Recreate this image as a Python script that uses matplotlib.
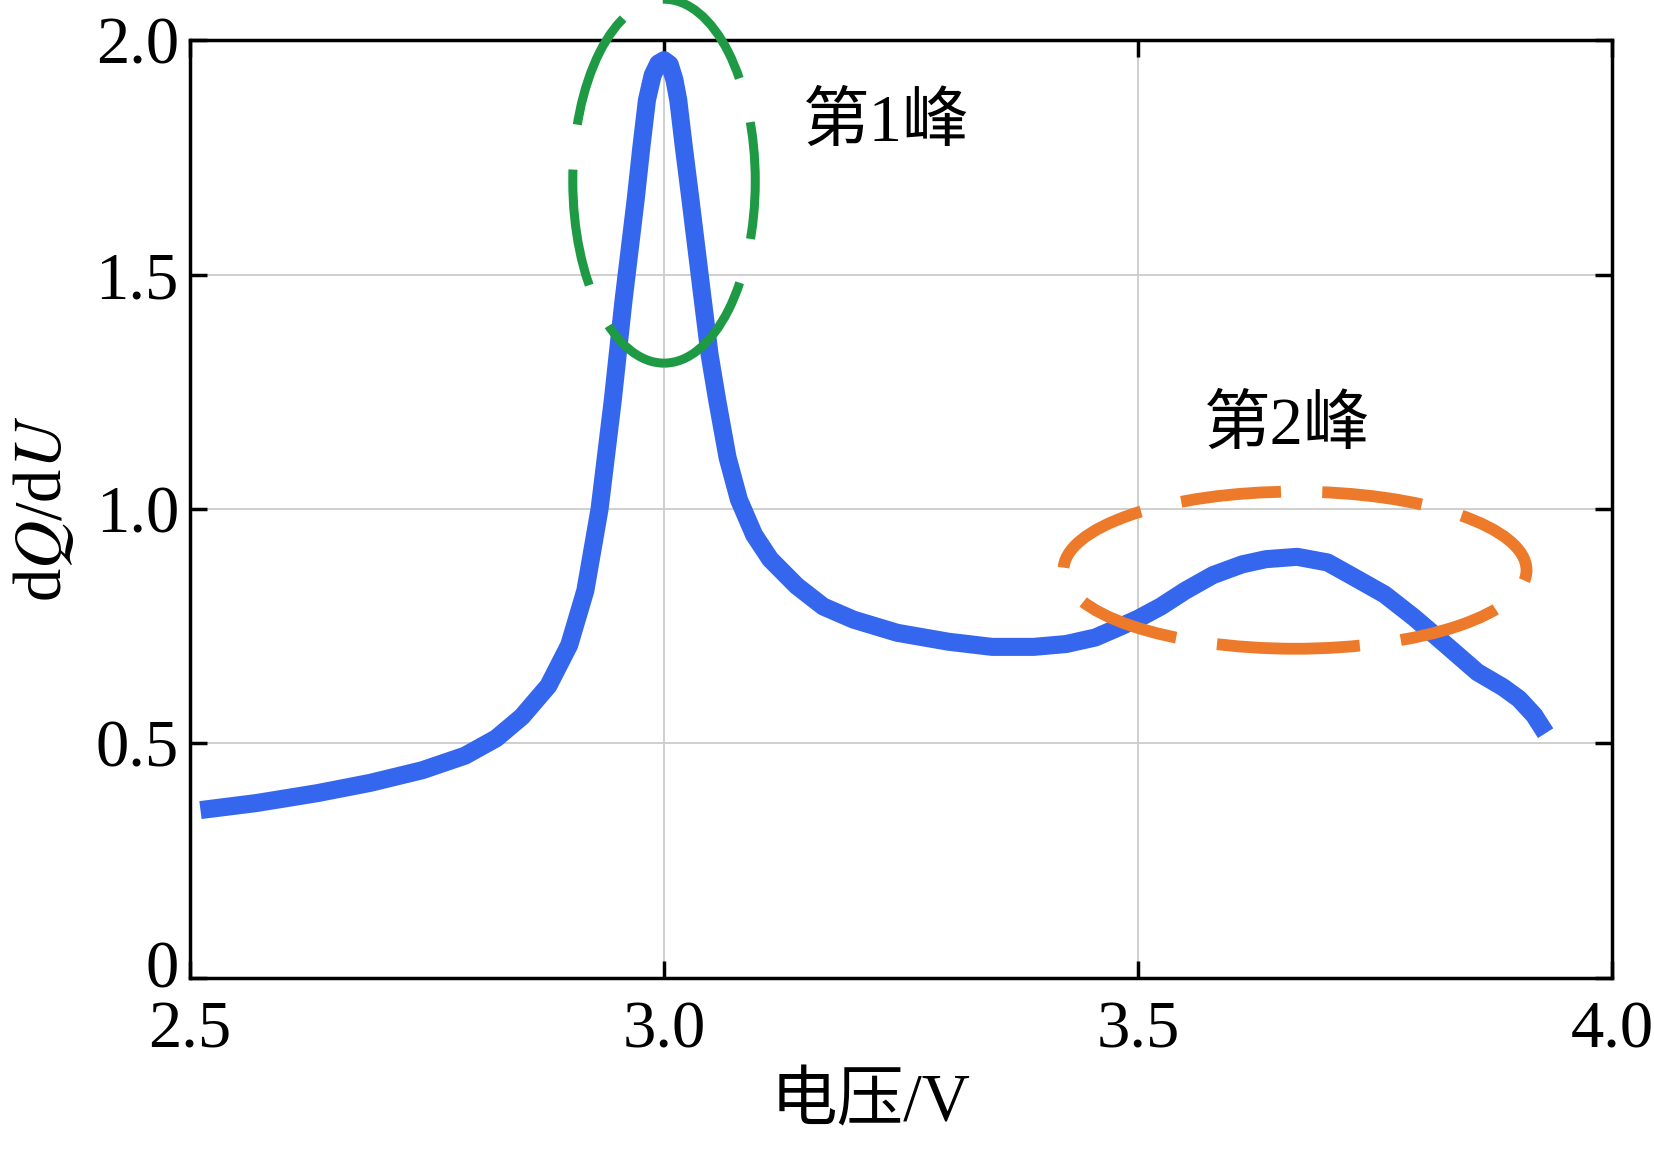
import matplotlib.pyplot as plt
import matplotlib.transforms as mtransforms
from matplotlib.patches import Ellipse

plt.rcParams['font.family'] = ['Liberation Serif', 'Noto Sans CJK SC']
plt.rcParams['mathtext.fontset'] = 'stix'

# dQ/dU curve
voltage = [2.511, 2.57, 2.634, 2.69, 2.745, 2.79, 2.823, 2.85, 2.878, 2.90, 2.917,
           2.932, 2.946, 2.957, 2.970, 2.976, 2.982, 2.988, 2.994, 3.000, 3.006,
           3.011, 3.015, 3.021, 3.028, 3.040, 3.048, 3.056, 3.067, 3.079, 3.095,
           3.112, 3.14, 3.168, 3.20, 3.246, 3.30, 3.346, 3.39, 3.424, 3.455,
           3.479, 3.50, 3.524, 3.55, 3.579, 3.61, 3.635, 3.668, 3.70, 3.724,
           3.76, 3.791, 3.825, 3.858, 3.885, 3.902, 3.918, 3.930]
dqdu = [0.358, 0.373, 0.394, 0.416, 0.443, 0.474, 0.511, 0.557, 0.623, 0.71, 0.826,
        1.00, 1.233, 1.44, 1.658, 1.77, 1.872, 1.925, 1.950, 1.957, 1.948,
        1.915, 1.872, 1.77, 1.658, 1.46, 1.33, 1.233, 1.11, 1.02, 0.945,
        0.893, 0.836, 0.792, 0.764, 0.736, 0.717, 0.706, 0.706, 0.712, 0.726,
        0.747, 0.766, 0.792, 0.826, 0.859, 0.882, 0.893, 0.898, 0.886, 0.859,
        0.818, 0.769, 0.710, 0.652, 0.620, 0.595, 0.560, 0.522]

# annotation ellipses: (center x, center y, width, height)
peak1 = (3.000, 1.699, 0.1925, 0.776)
peak2 = (3.6656, 0.8695, 0.4885, 0.335)
labels = ['第1峰', '第2峰']
label_pos = [(3.234, 1.82), (3.657, 1.174)]

xticks = [2.5, 3.0, 3.5, 4.0]
yticks = [0, 0.5, 1.0, 1.5, 2.0]
yticklabels = ['0', '0.5', '1.0', '1.5', '2.0']

fig = plt.figure(figsize=(16.54, 11.53), dpi=100)
ax = fig.add_axes([0.1149, 0.1518, 0.8597, 0.8135])

ax.plot(voltage, dqdu, color='#3466ee', lw=13, solid_capstyle='butt',
        solid_joinstyle='round', zorder=3)

e1 = Ellipse(peak1[:2], peak1[2], peak1[3], fill=False, edgecolor='#1e9a45',
             lw=6.5, linestyle=(0, (13, 5)), clip_on=False, zorder=4)
e2 = Ellipse(peak2[:2], peak2[2], peak2[3], fill=False, edgecolor='#ec7a2a',
             lw=8.5, linestyle=(3, (8.5, 3.5)), clip_on=False, zorder=4)
ax.add_patch(e1)
ax.add_patch(e2)

for txt, (tx, ty) in zip(labels, label_pos):
    ax.text(tx, ty, txt, fontsize=48, ha='center', va='center')

ax.set_xlim(2.5, 4.0)
ax.set_ylim(0, 2.0)
ax.set_xticks(xticks)
ax.set_xticklabels([f'{v:.1f}' for v in xticks])
ax.set_yticks(yticks)
ax.set_yticklabels(yticklabels)
ax.tick_params(direction='in', length=12, width=2.5, labelsize=48,
               top=True, right=True, pad=8)
ax.tick_params(axis='x', pad=16)
ax.grid(True, color='#cccccc', lw=1.3)
for s in ax.spines.values():
    s.set_linewidth(2.5)

# the "0" sits a little higher, clear of "2.5"
zero = ax.get_yticklabels()[0]
zero.set_transform(zero.get_transform() +
                   mtransforms.ScaledTranslation(0, 10 / 72, fig.dpi_scale_trans))

ax.set_xlabel('电压/V', fontsize=48)
ax.xaxis.set_label_coords(0.4785, -0.102)
ax.set_ylabel(r'd$\it{Q}$/d$\it{U}$', fontsize=48, labelpad=14)

fig.savefig('out.png', dpi=100)
